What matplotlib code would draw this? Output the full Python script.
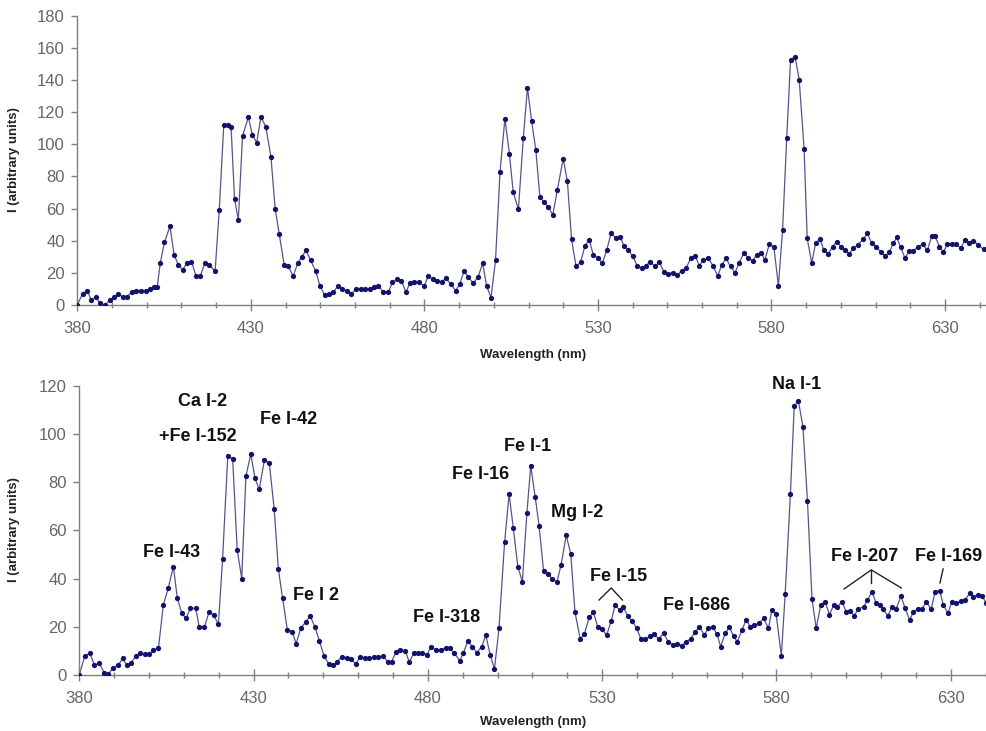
import numpy as np
import matplotlib.pyplot as plt
from matplotlib.ticker import MultipleLocator

plt.rcParams['font.family'] = ['Liberation Sans', 'DejaVu Sans']

# upper spectrum
wl_top = [380.0, 381.5, 382.9, 384.0, 385.4, 386.5, 387.9, 389.4, 390.7, 391.8,
          393.1, 394.2, 395.7, 396.9, 398.3, 399.8, 400.9, 402.1, 403.0, 403.9,
          405.1, 406.7, 407.9, 409.1, 410.4, 411.5, 412.9, 414.2, 415.4, 416.8,
          418.0, 419.7, 420.9, 422.2, 423.4, 424.3, 425.3, 426.4, 427.6, 429.3,
          430.4, 431.7, 432.9, 434.3, 435.8, 437.0, 438.2, 439.6, 440.8, 442.2,
          443.5, 444.7, 445.9, 447.2, 448.7, 449.9, 451.3, 452.6, 453.7, 455.2,
          456.4, 457.6, 459.0, 460.3, 461.6, 462.9, 464.3, 465.6, 466.7, 468.2,
          469.6, 470.8, 472.2, 473.4, 474.7, 475.8, 477.1, 478.5, 480.0, 481.1,
          482.6, 483.7, 485.0, 486.2, 487.6, 489.0, 490.2, 491.4, 492.6, 494.1,
          495.5, 496.8, 497.9, 499.2, 500.5, 501.8, 503.2, 504.5, 505.6, 507.1,
          508.5, 509.7, 510.9, 512.1, 513.3, 514.5, 515.7, 517.0, 518.3, 520.0,
          521.2, 522.4, 523.7, 525.0, 526.3, 527.5, 528.7, 529.9, 531.3, 532.5,
          533.8, 535.2, 536.4, 537.5, 538.8, 540.0, 541.4, 542.6, 543.8, 545.0,
          546.4, 547.7, 549.0, 550.3, 551.5, 552.9, 554.1, 555.4, 556.7, 558.0,
          559.2, 560.4, 561.8, 563.3, 564.5, 565.7, 566.9, 568.2, 569.5, 570.7,
          572.1, 573.3, 574.6, 575.7, 577.0, 578.1, 579.4, 580.7, 582.0, 583.2,
          584.4, 585.5, 586.8, 588.0, 589.4, 590.3, 591.6, 592.7, 594.0, 595.1,
          596.4, 597.6, 598.8, 600.0, 601.2, 602.4, 603.6, 604.8, 606.5, 607.6,
          608.9, 610.1, 611.5, 612.7, 614.0, 615.1, 616.1, 617.2, 618.5, 619.7,
          620.9, 622.3, 623.6, 624.9, 626.2, 627.1, 628.4, 629.5, 630.7, 631.9,
          633.2, 634.5, 635.8, 637.0, 638.2, 639.6, 641.1]
i_top = [0, 7, 9, 3, 5, 1, 0, 3, 5, 7,
         5, 5, 8, 9, 9, 9, 10, 11, 11, 26,
         39, 49, 31, 25, 22, 26, 27, 18, 18, 26,
         25, 21, 59, 112, 112, 111, 66, 53, 105, 117,
         106, 101, 117, 111, 92, 60, 44, 25, 24, 18,
         26, 30, 34, 28, 21, 12, 6, 7, 8, 12,
         10, 9, 7, 10, 10, 10, 10, 11, 12, 8,
         8, 14, 16, 15, 8, 13.5, 14.5, 14, 12, 18,
         16, 15, 14.5, 16.6, 13, 9, 13, 21, 17.6, 13.5,
         17.6, 26, 12, 4.6, 28, 83, 116, 94, 70, 59.5,
         104, 135, 114.5, 96.5, 67, 64, 61, 56, 71.6, 91,
         77, 41, 24, 26.6, 37, 40.5, 31, 29.5, 26, 34,
         44.6, 41.5, 42.5, 36.7, 34, 30.5, 24, 23, 24.3, 27,
         24, 26.6, 20.7, 19.3, 20, 18.7, 21.4, 22.8, 29, 30.5,
         24.5, 28, 29, 24, 18, 25, 29, 24, 20, 26.3,
         32.6, 29, 27.6, 31, 32.6, 28, 38, 36, 12, 46.7,
         104, 152.5, 154.6, 140, 97, 41.5, 26, 38.4, 41, 34,
         32, 36.3, 39.4, 36.3, 34, 32, 35.3, 37.3, 41, 44.6,
         38.4, 36.3, 33, 30.5, 33, 38.4, 42, 36, 29, 33.8,
         33.8, 36.3, 37.8, 34, 43, 43, 36.3, 33, 37.8, 38,
         38, 35.3, 40.5, 38.8, 40, 37.3, 34.6]

# lower spectrum
wl_bot = [380.0, 381.6, 383.1, 384.3, 385.7, 387.1, 388.3, 389.8, 391.2, 392.4,
          393.6, 394.8, 396.3, 397.4, 398.8, 400.1, 401.2, 402.7, 404.1, 405.5,
          407.0, 408.1, 409.4, 410.6, 411.9, 413.4, 414.4, 415.9, 417.2, 418.5,
          419.9, 421.1, 422.6, 424.0, 425.3, 426.6, 427.8, 429.2, 430.4, 431.6,
          433.1, 434.5, 435.9, 437.1, 438.3, 439.7, 441.1, 442.2, 443.6, 445.0,
          446.2, 447.6, 448.9, 450.2, 451.5, 452.9, 454.0, 455.3, 456.7, 458.0,
          459.3, 460.6, 462.0, 463.2, 464.4, 465.8, 467.1, 468.5, 469.6, 470.9,
          472.0, 473.5, 474.7, 475.9, 477.1, 478.4, 479.7, 480.9, 482.4, 483.7,
          485.1, 486.4, 487.6, 489.1, 490.2, 491.4, 492.8, 494.0, 495.5, 496.6,
          497.9, 499.1, 500.4, 502.0, 503.3, 504.5, 505.8, 507.1, 508.4, 509.5,
          510.8, 511.9, 513.2, 514.4, 515.7, 517.0, 518.2, 519.7, 521.0, 522.2,
          523.7, 524.9, 526.3, 527.5, 528.7, 529.9, 531.3, 532.6, 533.7, 535.0,
          536.1, 537.3, 538.5, 539.9, 541.1, 542.3, 543.6, 544.9, 546.2, 547.6,
          549.0, 550.3, 551.6, 552.8, 554.1, 555.4, 556.7, 557.9, 559.3, 560.5,
          561.7, 562.9, 564.0, 565.3, 566.5, 567.7, 568.8, 570.1, 571.3, 572.5,
          573.7, 575.0, 576.3, 577.7, 578.7, 579.9, 581.4, 582.5, 584.0, 585.1,
          586.3, 587.6, 588.9, 590.2, 591.4, 592.7, 594.0, 595.2, 596.4, 597.5,
          598.8, 600.0, 601.2, 602.3, 603.5, 605.0, 606.1, 607.4, 608.6, 609.8,
          610.7, 611.9, 613.1, 614.3, 615.7, 616.9, 618.2, 619.3, 620.6, 621.7,
          623.0, 624.4, 625.5, 626.8, 627.9, 629.2, 630.3, 631.6, 632.9, 634.1,
          635.4, 636.5, 637.8, 639.0, 640.2]
i_bot = [0, 8, 9, 4, 5, 1, 0.4, 3, 4, 7,
         4, 5, 8, 9, 8.6, 8.6, 10.4, 11, 29, 36,
         45, 32, 25.6, 23.5, 27.7, 27.7, 20, 20, 26, 25,
         21, 48, 91, 89.6, 52, 40, 82.5, 91.7, 81.6, 77,
         89, 88, 69, 44, 32, 18.7, 18, 13, 19.6, 22,
         24.5, 20, 14, 8, 4.6, 4, 5.5, 7.6, 6.9, 6.5,
         4.6, 7.6, 6.9, 6.9, 7.3, 7.3, 7.9, 5.5, 5.5, 9.7,
         10.4, 10, 5.3, 9, 9.3, 9.3, 8.3, 11.8, 10.4, 10.4,
         11.3, 11, 9, 6, 9, 14, 11.8, 9.3, 11.8, 16.6,
         8.3, 2.4, 19.4, 55, 75, 61, 45, 38.7, 67, 86.7,
         73.7, 62, 43, 42, 40, 38.4, 45.6, 58, 50, 26,
         15, 17, 24, 26, 20, 19, 16.6, 22.5, 29, 27,
         28, 24.6, 22.5, 19.4, 15, 14.8, 16, 17, 15, 17.3,
         13.8, 12.4, 13, 12.2, 13.8, 15, 18, 20, 16.6, 19.4,
         20, 17, 11.8, 17.3, 19.8, 16, 13.8, 18.7, 22.8, 20,
         20.7, 21.4, 23.5, 19.4, 27, 25.3, 8, 33.6, 75, 111.6,
         113.6, 103, 72, 31.4, 19.4, 29, 30.4, 25, 29, 28.3,
         30.4, 26.3, 26.7, 24.6, 27.4, 28.3, 31, 34.6, 29.7, 29,
         27.2, 24.5, 28, 27.2, 32.8, 27.7, 22.8, 26.3, 27.2, 27.2,
         30.4, 27.2, 34.6, 35, 29, 25.6, 30.4, 29.7, 30.7, 31,
         34, 32.5, 33.2, 32.8, 29.7]

line_names = ["Ca I-2", "+Fe I-152", "Fe I-42", "Fe I-43", "Fe I 2", "Fe I-318",
              "Fe I-16", "Fe I-1", "Mg I-2", "Fe I-15", "Fe I-686", "Na I-1",
              "Fe I-207", "Fe I-169"]

W, H = 987, 731
fig = plt.figure(figsize=(W / 100, H / 100), dpi=100)

def px_axes(left, right, top, bottom):
    return fig.add_axes([left / W, 1 - bottom / H, (right - left) / W, (bottom - top) / H])

ax1 = px_axes(77.3, 987, 15.7, 305)
ax2 = px_axes(79.3, 987, 385.7, 675)

line_col = '#55558a'
mark_col = '#12126a'
grey = '#808080'

for ax, wl, val, xmax, ymax in [(ax1, wl_top, i_top, 642.1, 180), (ax2, wl_bot, i_bot, 640.4, 120)]:
    ax.plot(wl, val, '-', color=line_col, lw=0.9, zorder=2)
    ax.plot(wl, val, 'o', color=mark_col, ms=3.8, mew=0, zorder=3)
    ax.set_xlim(380, xmax)
    ax.set_ylim(0, ymax)
    ax.set_xticks(np.arange(380, 641, 50))
    ax.set_xticks(np.arange(380, 641, 10), minor=True)
    ax.yaxis.set_major_locator(MultipleLocator(20))
    for s in ['top', 'right']:
        ax.spines[s].set_visible(False)
    for s in ['left', 'bottom']:
        ax.spines[s].set_color(grey)
        ax.spines[s].set_linewidth(1.0)
    ax.tick_params(axis='x', which='major', direction='inout', length=9, width=1,
                   color=grey, labelsize=12, labelcolor='#666666', pad=7)
    ax.tick_params(axis='x', which='minor', direction='inout', length=5, width=1, color=grey)
    ax.tick_params(axis='y', which='major', direction='out', length=4, width=1,
                   color=grey, labelsize=12, labelcolor='#666666', pad=5)
    ax.set_facecolor('none')

# axis titles
lab = dict(fontsize=9.5, fontweight='bold', color='#222222', ha='center', va='center')
fig.text(14 / W, 1 - 160 / H, 'I (arbitrary units)', rotation=90, **lab)
fig.text(14 / W, 1 - 530 / H, 'I (arbitrary units)', rotation=90, **lab)
fig.text(533 / W, 1 - 355 / H, 'Wavelength (nm)', **lab)
fig.text(533 / W, 1 - 722 / H, 'Wavelength (nm)', **lab)

# line identifications on the lower spectrum
label_pos = [(415.5, 113.3), (414.0, 98.8), (439.9, 105.8), (406.6, 51.0), (447.9, 32.8),
             (485.5, 23.7), (495.0, 83.0), (508.7, 94.6), (522.8, 67.2), (534.6, 40.7),
             (557.0, 29.0), (585.9, 120.3), (605.2, 49.0), (619.8, 49.0)]
for name, (x, y) in zip(line_names, label_pos):
    ha = 'left' if name == 'Fe I-169' else 'center'
    ax2.text(x, y, name, fontsize=13, fontweight='bold', ha=ha, va='center', color='#111111')

ax2.plot([529.1, 532.6, 535.8], [31.1, 36.1, 31.1], color='#222222', lw=1)
ax2.plot([599.4, 607.2, 615.8], [35.7, 43.6, 36.1], color='#222222', lw=1)
ax2.plot([607.2, 607.2], [43.6, 38.2], color='#222222', lw=1)
ax2.plot([627.8, 626.9], [44.0, 38.2], color='#222222', lw=1)

fig.savefig('out.png', dpi=100)
